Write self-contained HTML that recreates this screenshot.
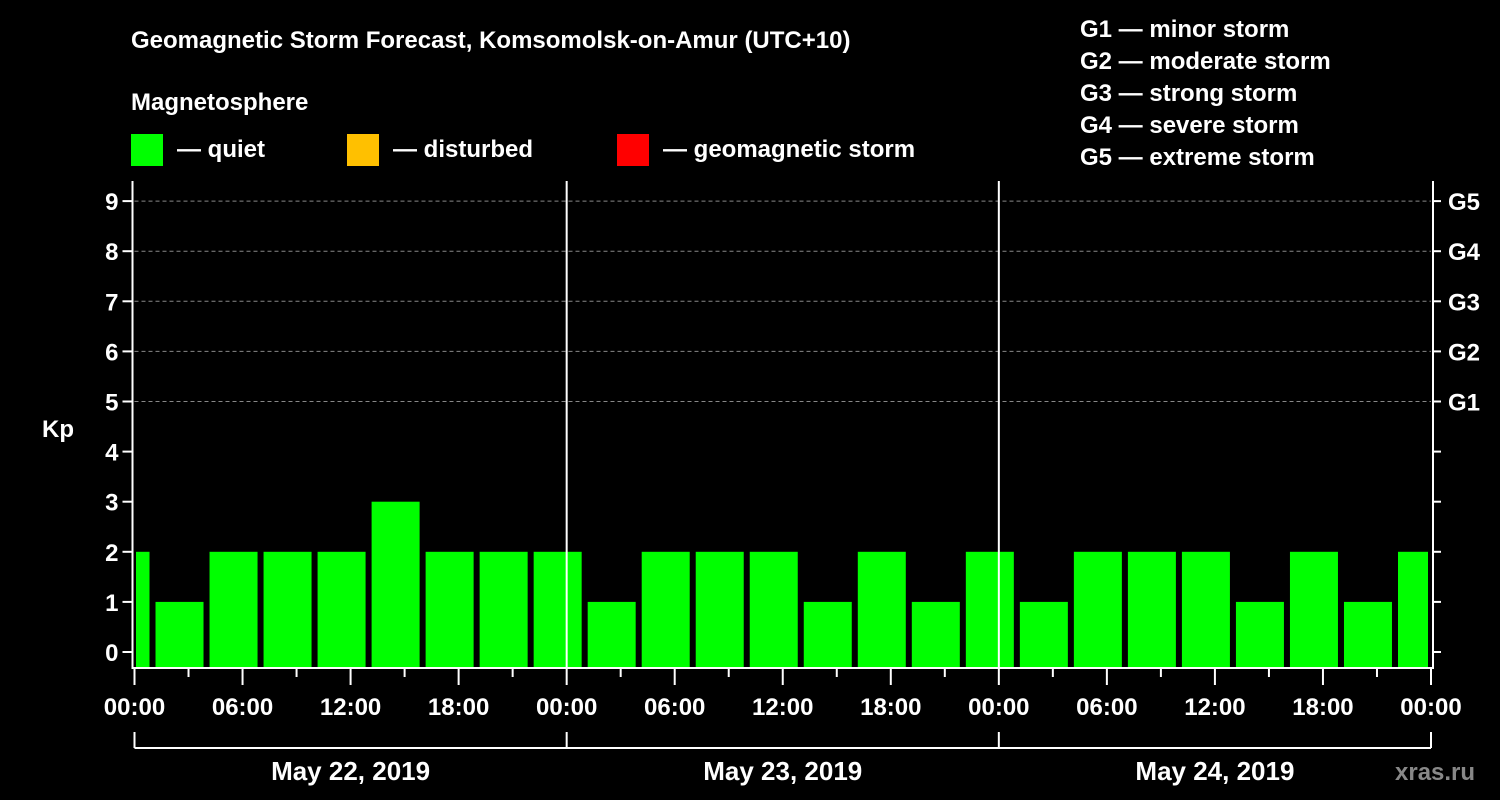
<!DOCTYPE html>
<html><head><meta charset="utf-8"><style>
html,body{margin:0;padding:0;background:#000;}
svg{display:block;font-family:"Liberation Sans",Arial,sans-serif;font-weight:bold;}
</style></head><body>
<svg id="chart" width="1500" height="800" viewBox="0 0 1500 800">
<rect width="1500" height="800" fill="#000"/>
<text x="131" y="48" fill="#fff" font-size="24">Geomagnetic Storm Forecast, Komsomolsk-on-Amur (UTC+10)</text>
<text x="131" y="110" fill="#fff" font-size="24">Magnetosphere</text>
<g><rect x="131" y="134" width="32" height="32" fill="#00ff00"/><text x="177" y="157" fill="#fff" font-size="24">— quiet</text></g>
<g><rect x="347" y="134" width="32" height="32" fill="#ffc000"/><text x="393" y="157" fill="#fff" font-size="24">— disturbed</text></g>
<g><rect x="617" y="134" width="32" height="32" fill="#ff0000"/><text x="663" y="157" fill="#fff" font-size="24">— geomagnetic storm</text></g>
<g fill="#fff" font-size="24">
<text x="1080" y="37">G1 — minor storm</text>
<text x="1080" y="69">G2 — moderate storm</text>
<text x="1080" y="101">G3 — strong storm</text>
<text x="1080" y="133">G4 — severe storm</text>
<text x="1080" y="165">G5 — extreme storm</text>
</g>
<text x="42" y="437" fill="#fff" font-size="24">Kp</text>
<text x="1395" y="780" fill="#888" font-size="24">xras.ru</text>
<defs><clipPath id="pc"><rect x="136" y="180" width="1292" height="490"/></clipPath></defs>
<g id="grid"></g>
<g id="bars" clip-path="url(#pc)"></g>
<g id="axes"></g>
</svg>
<script>
const kpValues=[2,1,2,2,2,3,2,2,2,1,2,2,2,1,2,1,2,1,2,2,2,1,2,1,2];
const barHours=[-0.5,2.5,5.5,8.5,11.5,14.5,17.5,20.5,23.5,26.5,29.5,32.5,35.5,38.5,41.5,44.5,47.5,50.5,53.5,56.5,59.5,62.5,65.5,68.5,71.5];
const yTicks=[0,1,2,3,4,5,6,7,8,9];
const gLabels=["","","","","","G1","G2","G3","G4","G5"];
const timeLabels=["00:00","06:00","12:00","18:00","00:00","06:00","12:00","18:00","00:00","06:00","12:00","18:00","00:00"];
const dateLabels=["May 22, 2019","May 23, 2019","May 24, 2019"];
const NS="http://www.w3.org/2000/svg";
const X0=134.5,X1=1431,Y0=652,DY=50.1;
const x=h=>X0+(X1-X0)*h/72;
const y=v=>Y0-v*DY;
const bottom=668;
function mk(tag,attrs,parent){const e=document.createElementNS(NS,tag);for(const k in attrs)e.setAttribute(k,attrs[k]);parent.appendChild(e);return e;}
const grid=document.getElementById('grid'),bars=document.getElementById('bars'),axes=document.getElementById('axes');
yTicks.forEach(v=>{if(v>=5){const l=mk('line',{x1:X0,x2:X1,y1:y(v),y2:y(v),stroke:'#888','stroke-width':1,'stroke-dasharray':'4 3'},grid);

}});
const bw=54*48/54;
kpValues.forEach((v,i)=>{const c=x(barHours[i]);const top=y(v);
const r=mk('rect',{x:c-24,y:top,width:48,height:bottom-top,fill:v>=5?'#ff0000':(v>=4?'#ffc000':'#00ff00')},bars);

});
const st={stroke:'#fff','stroke-width':2};
mk('line',Object.assign({x1:X0-2,x2:X0-2,y1:181,y2:bottom+1},st),axes);
mk('line',Object.assign({x1:X1+2,x2:X1+2,y1:181,y2:bottom+1},st),axes);
mk('line',Object.assign({x1:X0-2,x2:X1+2,y1:bottom,y2:bottom},st),axes);
[24,48].forEach(h=>{mk('line',Object.assign({x1:x(h),x2:x(h),y1:181,y2:bottom},st),axes);});
yTicks.forEach((v,i)=>{
mk('line',Object.assign({x1:X0-12,x2:X0-2,y1:y(v),y2:y(v)},st),axes);
mk('line',Object.assign({x1:X1+2,x2:X1+10,y1:y(v),y2:y(v)},st),axes);
const t=mk('text',{x:X0-16,y:y(v)+9,fill:'#fff','font-size':24,'text-anchor':'end'},axes);t.textContent=v;


if(gLabels[i]){const g=mk('text',{x:1448,y:y(v)+9,fill:'#fff','font-size':24},axes);g.textContent=gLabels[i];

}
});
for(let h=0;h<=72;h+=3){const major=h%6===0;
mk('line',Object.assign({x1:x(h),x2:x(h),y1:bottom,y2:major?685:677},st),axes);}
timeLabels.forEach((s,i)=>{const t=mk('text',{x:x(i*6),y:715,fill:'#fff','font-size':24,'text-anchor':'middle'},axes);t.textContent=s;

});
mk('line',Object.assign({x1:x(0),x2:x(72),y1:748,y2:748},st),axes);
[0,24,48,72].forEach(h=>mk('line',Object.assign({x1:x(h),x2:x(h),y1:732,y2:748},st),axes));
dateLabels.forEach((s,i)=>{const t=mk('text',{x:x(i*24+12),y:780,fill:'#fff','font-size':26,'text-anchor':'middle'},axes);t.textContent=s;

});
</script>
</body></html>
